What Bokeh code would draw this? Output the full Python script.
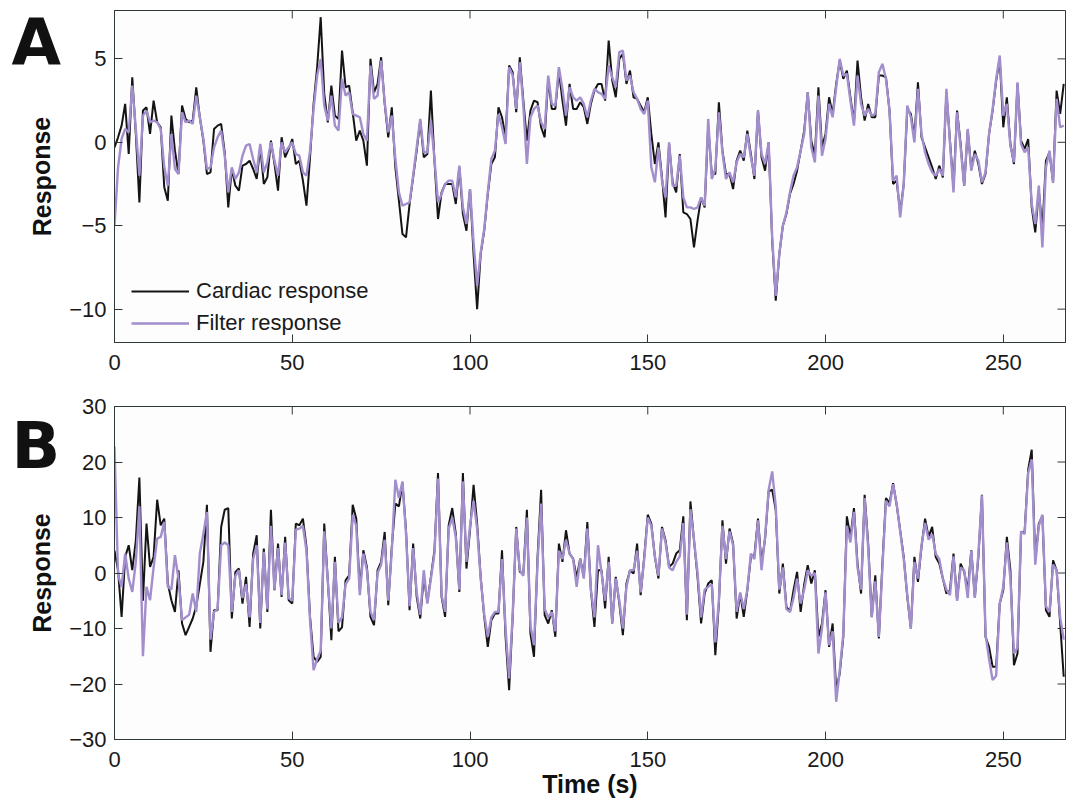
from bokeh.plotting import figure
from bokeh.layouts import column, row
from bokeh.models import Range1d, FixedTicker, Legend, LegendItem
from bokeh.core.properties import value
from bokeh.embed import file_html
from bokeh.resources import INLINE

time = list(range(268))

cardiac_a = [
    -0.3, 0.3, 1.0, 2.3, -0.7, 3.9, 0.5, -3.6, 1.9, 2.1,
    0.5, 2.5, 1.2, 0.9, -2.7, -3.5, 1.6, -0.5, -1.9, 2.2,
    1.4, 1.2, 1.3, 3.3, 1.5, 0.1, -1.9, -1.8, 0.8, 1.0,
    1.1, -0.6, -3.9, -1.6, -2.6, -2.9, -1.4, -1.3, -1.1, -1.6,
    -2.2, -0.3, -2.5, -2.1, 0.1, -1.3, -2.9, 0.3, -0.9, -0.4,
    0.2, -1.3, -1.1, -2.3, -3.8, -0.9, 2.3, 4.5, 7.5, 2.9,
    1.2, 3.4, 1.6, 1.4, 5.5, 3.3, 3.4, 1.8, 0.1, 0.7,
    0.1, -1.4, 5.0, 3.0, 3.5, 5.1, 2.3, 0.3, 2.1, -1.5,
    -3.5, -5.5, -5.7, -3.7, -2.1, -0.5, 1.3, -0.9, -0.7, 3.1,
    -1.1, -4.6, -3.0, -2.5, -2.5, -2.5, -3.7, -1.5, -4.3, -5.3,
    -2.8, -6.7, -10.0, -6.7, -5.3, -3.1, -1.3, -0.9, 2.1, 1.5,
    0.3, 4.6, 4.2, 1.8, 5.1, 2.5, 0.1, 1.9, 2.5, 2.4,
    0.9, 0.3, 3.8, 2.0, 2.0, 4.3, 2.5, 1.0, 3.5, 2.0,
    2.0, 2.4, 2.1, 1.1, 2.3, 3.1, 3.5, 3.5, 2.5, 6.1,
    3.7, 2.7, 5.0, 5.3, 3.5, 4.3, 2.7, 2.6, 2.2, 1.8,
    2.7, 0.5, -1.3, 0.0, -2.1, -4.5, -0.1, -2.4, -3.0, -0.7,
    -4.2, -4.3, -4.6, -6.3, -4.7, -3.3, -3.9, 1.0, -1.9, -1.9,
    2.4, -0.5, -1.9, -1.9, -2.8, -1.1, -0.5, -1.1, 0.7, -0.7,
    -2.2, 1.9, -0.9, -1.7, 0.0, -5.9, -9.5, -6.7, -5.0, -4.3,
    -3.1, -2.5, -1.7, -0.5, 0.7, 3.0, 0.1, -0.8, 3.3, -0.3,
    0.5, 2.7, 1.7, 3.5, 4.9, 3.8, 4.3, 2.7, 1.2, 4.9,
    2.7, 1.3, 2.3, 1.5, 1.5, 4.0, 4.0, 3.9, 1.9, -2.5,
    -2.3, -4.2, -2.5, 2.0, 1.7, 0.3, 3.6, 0.3, -0.3, -0.9,
    -1.5, -2.2, -1.4, -2.1, 3.0, 0.1, -2.7, 1.9, -0.1, -2.6,
    0.7, -1.6, -0.5, -1.3, -2.5, -1.9, 0.5, 1.9, 3.7, 5.0,
    0.9, 2.7, -0.1, -1.3, 3.5, 0.1, -0.4, 0.2, -3.9, -5.4,
    -2.9, -5.2, -1.1, -0.6, -2.4, 3.1, 1.7, 3.5,
]

filter_a = [
    -5.0, -1.5, 0.2, 0.8, 0.6, 3.4, 0.8, -2.0, 1.6, 1.9,
    1.2, 1.3, 1.2, 0.8, -1.5, -2.6, 0.5, -1.6, -1.9, 1.8,
    1.2, 1.3, 1.1, 2.8, 1.5, 0.2, -1.6, -1.5, -0.3, 0.3,
    0.7, -0.8, -3.0, -1.5, -2.2, -1.8, -0.8, -0.2, -0.1, -1.0,
    -1.8, -0.1, -1.8, -1.2, 0.0, -1.1, -2.0, 0.0, -0.6, -0.3,
    0.0, -0.7, -0.8, -1.8, -2.0, -0.5, 2.0, 4.0, 5.0, 2.2,
    1.3, 2.8, 1.0, 0.7, 3.8, 2.8, 3.0, 1.7, 1.6, 1.5,
    0.5, 0.1, 4.6, 2.6, 2.8, 4.9, 2.4, 0.6, 1.6, -1.0,
    -3.0, -3.8, -3.7, -3.6, -2.0, -0.3, 1.4, -0.6, -0.6, 1.3,
    -1.0, -3.6, -3.1, -2.5, -2.3, -2.3, -3.3, -1.4, -3.9, -4.9,
    -2.8, -6.0, -8.6, -6.6, -5.2, -3.0, -1.0, -0.5, 1.7, 0.9,
    -0.1, 4.5, 4.0, 2.0, 4.8, 2.2, -1.3, 1.5, 2.0, 2.2,
    1.2, 0.8, 4.0, 2.3, 2.2, 4.5, 3.2, 1.6, 3.3, 2.7,
    2.5, 2.7, 2.3, 1.5, 2.5, 3.2, 3.0, 2.9, 2.6, 4.6,
    3.9, 3.3, 5.4, 5.5, 3.7, 4.0, 3.0, 2.6, 2.0, 1.7,
    2.5, -1.5, -2.4, -0.3, -2.3, -3.3, 0.0, -2.6, -2.6, -0.8,
    -3.3, -3.9, -3.9, -4.0, -3.9, -3.3, -3.8, 1.4, -2.2, -1.6,
    1.8, -0.6, -2.2, -1.8, -2.4, -1.2, -0.7, -0.9, 0.5, -0.9,
    -2.0, 1.9, -0.7, -1.3, 0.0, -5.7, -9.2, -6.7, -5.0, -4.2,
    -3.0, -2.0, -1.5, -0.5, 0.5, 3.0, -0.3, -1.2, 2.8, -0.8,
    0.2, 2.3, 1.5, 3.3, 5.0, 4.0, 4.1, 2.5, 1.0, 4.0,
    2.3, 1.6, 2.0, 1.6, 1.7, 4.2, 4.7, 3.8, 1.9, -2.3,
    -2.0, -4.5, -2.5, 2.2, 1.5, 0.0, 3.2, 0.5, -0.6, -1.3,
    -1.8, -2.0, -1.6, -2.0, 3.2, 0.0, -3.0, 1.8, -0.3, -2.6,
    0.8, -1.7, -0.7, -1.1, -2.4, -1.8, 0.5, 2.0, 3.8, 5.2,
    1.6, 2.3, -0.2, -1.2, 3.6, -0.1, -0.6, -0.3, -3.7, -4.9,
    -2.6, -6.3, -1.5, -0.5, -2.4, 2.6, 0.9, 1.0,
]

cardiac_b = [
    4.0, 0.5, -7.9, 2.9, 5.0, 0.5, 5.9, 17.2, -5.0, 8.9,
    1.1, 2.9, 13.2, 8.6, 9.8, -1.9, -4.9, -7.0, 0.5, -9.1,
    -11.2, -9.7, -8.2, -6.0, -2.0, 2.0, 12.3, -14.2, -6.7, -6.7,
    8.3, 11.4, 11.7, -8.2, 0.2, 0.8, -5.5, -0.7, -9.7, 3.5,
    6.8, -10.0, 4.4, -7.0, 11.4, -3.1, 5.3, -4.3, 6.5, -4.9,
    -5.5, 8.9, 8.6, 9.8, 4.7, -7.9, -15.1, -16.0, -15.1, 8.9,
    -1.3, -12.1, 2.9, -10.5, -9.8, -1.3, -0.4, 12.3, 9.8, -3.1,
    4.1, 1.1, -7.9, -9.4, 0.5, 2.0, 7.4, -5.8, 4.7, 12.5,
    12.0, 16.2, 7.7, -6.7, 5.3, -4.3, -8.2, -0.7, -5.2, -0.7,
    4.1, 18.0, -4.3, -7.9, 8.6, 11.7, 7.1, -3.4, 18.0, 0.8,
    7.7, 15.9, 8.9, -0.7, -7.9, -13.3, -8.5, -7.3, -7.3, 4.1,
    -11.5, -21.1, -7.9, 8.3, 0.2, -0.1, 11.4, -10.9, -15.1, 2.9,
    15.0, -7.6, -9.1, -6.7, -11.5, 5.3, 2.0, 7.7, 3.5, 2.6,
    -0.8, 2.6, -0.7, 9.2, -3.1, -9.7, 0.5, 0.5, -6.4, 2.9,
    -9.1, -0.7, -5.5, -11.2, -1.9, 0.5, -0.1, 5.3, -4.0, 2.9,
    10.5, 8.9, 2.9, -1.0, 8.3, 5.9, 1.1, 1.7, 3.5, 4.1,
    10.2, -8.5, 12.9, 5.9, -0.7, -9.1, -3.7, -1.9, -1.3, -14.8,
    -5.5, 9.5, 1.7, 8.0, 5.3, -8.2, -3.7, -7.9, -3.1, 2.9,
    3.2, 9.8, 1.7, 6.2, 14.7, 15.0, 11.4, -3.7, 1.7, -6.1,
    -7.0, -3.1, 0.2, -7.0, -2.0, 1.4, -1.9, 0.5, -11.5, -9.1,
    -3.1, -13.3, -9.1, -21.0, -18.1, -11.5, 10.2, 6.5, 11.7, 1.7,
    -3.7, 14.1, 5.3, -7.9, -0.4, -11.8, 1.7, 13.5, 12.6, 16.2,
    12.3, 7.7, 2.9, -4.3, -10.0, 2.9, -1.6, 4.7, 9.8, 6.5,
    8.3, 2.9, 1.7, -1.0, -3.7, -3.1, 3.5, -4.9, 1.7, 0.2,
    -3.1, 4.1, -4.3, 2.9, 14.1, -11.5, -13.3, -16.9, -16.9, -5.5,
    -3.1, 6.5, 0.5, -16.6, -14.5, 7.4, 7.4, 18.6, 22.2, 2.3,
    8.9, 10.3, -6.7, -7.9, 2.3, 0.5, -9.1, -18.7,
]

filter_b = [
    22.8, -0.4, -2.5, 3.5, -1.0, -3.4, 2.0, 12.0, -15.0, -2.5,
    -4.9, 1.0, 6.2, 6.5, 9.2, -2.5, -3.0, 3.2, -1.0, -8.5,
    -8.0, -7.5, -3.7, -7.0, 3.5, 7.1, 11.0, -12.0, -7.0, -6.5,
    5.0, 5.5, 5.0, -7.0, -0.5, 0.5, -4.5, -2.0, -8.0, 2.5,
    5.0, -9.0, 3.8, -6.5, 8.5, -3.0, 4.5, -4.0, 5.5, -4.5,
    -5.0, 7.8, 8.0, 8.5, 4.0, -8.5, -17.5, -15.5, -14.0, 7.5,
    -1.5, -10.0, 2.0, -9.0, -8.0, -2.0, -1.0, 10.5, 8.5, -4.0,
    3.5, 0.5, -7.0, -8.5, 0.0, 1.5, 6.0, -5.0, 4.0, 16.8,
    13.5, 16.5, 7.0, -6.0, 4.5, -3.5, -7.5, 0.5, -5.5, -1.0,
    3.5, 17.0, -4.0, -7.0, 8.0, 10.0, 6.5, -3.0, 16.5, 2.0,
    8.5, 13.0, 8.0, -1.0, -7.5, -11.5, -8.0, -7.0, -7.0, 2.5,
    -10.0, -19.0, -7.5, 8.0, 0.5, -0.5, 10.0, -9.5, -13.0, 2.0,
    12.5, -6.5, -8.0, -7.0, -10.5, 4.0, 2.5, 6.0, 3.5, 2.5,
    -2.5, 2.5, -1.0, 8.0, -3.0, -8.0, 5.0, 0.0, -5.0, 2.0,
    -9.0, -1.0, -5.0, -10.0, -2.5, 0.5, 0.5, 4.0, -3.5, 2.5,
    10.0, 8.5, 3.0, -0.5, 8.0, 5.5, 1.0, 0.5, 2.0, 3.0,
    9.0, -7.5, 11.5, 6.0, 0.0, -8.0, -3.0, -2.5, -2.0, -12.5,
    -5.0, 8.5, 2.5, 7.5, 5.0, -7.0, -3.5, -6.5, -3.0, 3.5,
    2.5, 9.5, 0.5, 6.5, 15.0, 18.3, 12.0, -3.0, 1.0, -6.5,
    -7.0, -4.5, -1.0, -5.5, -3.0, 0.5, -0.5, 0.0, -14.5, -10.0,
    -3.5, -13.0, -10.5, -23.2, -17.5, -11.0, 8.5, 5.5, 11.0, 1.0,
    -3.0, 13.5, 4.5, -8.0, -1.5, -11.5, 1.0, 13.0, 12.0, 16.0,
    12.5, 7.5, 2.5, -4.0, -10.0, 2.0, -1.0, 5.0, 9.0, 6.0,
    7.0, 3.5, 2.5, -1.0, -3.0, -4.0, 3.0, -5.0, 1.0, 0.5,
    -4.5, 4.0, -4.5, 3.5, 14.0, -11.0, -15.5, -19.3, -18.5, -5.5,
    -2.5, 5.5, -1.0, -14.5, -13.5, 7.5, 7.0, 18.0, 20.5, 1.5,
    8.5, 10.5, -6.0, -7.0, 1.5, 0.5, -8.0, -12.0,
]

x_ticks = [0, 50, 100, 150, 200, 250]
y_ticks_a = [-10, -5, 0, 5]
y_ticks_b = [-30, -20, -10, 0, 10, 20, 30]
x_end = 267.5
y_lim_a = (-12, 7.9)
y_lim_b = (-30, 30)
series_labels = ["Cardiac response", "Filter response"]
panel_letters = ["A", "B"]
x_label = "Time (s)"
y_label = "Response"

BLACK = "#141414"
PURPLE = "#a28dcd"
FRAME = "#2e3838"
FONT = "Liberation Sans"

# --- page geometry (pixels) ---
MARGIN_W = 66          # left strip holding panel letters and y titles
FRAME_LEFT = 113       # frame's left edge on the page
H_A, H_B = 390, 413
TOP_A, BOT_A = 10, 48
TOP_B, BOT_B = 16, 64


def minus(v):
    return ("\u2212" + str(abs(v))) if v < 0 else str(v)


def style(p, yticks, ylim):
    p.xaxis.ticker = FixedTicker(ticks=x_ticks)
    p.yaxis.ticker = FixedTicker(ticks=yticks)
    p.yaxis.major_label_overrides = {v: minus(v) for v in yticks}
    for ax in p.xaxis + p.yaxis:
        ax.major_tick_in = 8
        ax.major_tick_out = 0
        ax.minor_tick_line_color = None
        ax.axis_line_color = FRAME
        ax.major_tick_line_color = FRAME
        ax.major_label_text_font = FONT
        ax.major_label_text_font_size = "22px"
        ax.major_label_text_color = "#1a1a1a"
        ax.axis_label_text_font = FONT
        ax.axis_label_text_font_style = "bold"
        ax.axis_label_text_font_size = "25px"
        ax.axis_label_text_color = "#111111"
    p.xaxis.major_label_standoff = 12
    p.yaxis.major_label_standoff = 8
    p.outline_line_color = FRAME
    p.grid.visible = False
    p.background_fill_color = "#fdfdfd"
    p.border_fill_color = "white"
    # inward tick marks on the top and right edges of the box
    p.scatter(x_ticks, [ylim[1]] * len(x_ticks), marker="dash", size=16, angle=1.5708,
              line_color=FRAME, line_width=1)
    p.scatter([x_end] * len(yticks), yticks, marker="dash", size=16,
              line_color=FRAME, line_width=1)


main_w = 1066 - MARGIN_W
lb = FRAME_LEFT - MARGIN_W

pa = figure(width=main_w, height=H_A, output_backend="svg", toolbar_location=None,
            x_range=Range1d(0, x_end), y_range=Range1d(*y_lim_a),
            min_border_left=lb, min_border_right=1, min_border_top=TOP_A, min_border_bottom=BOT_A)
style(pa, y_ticks_a, y_lim_a)
ra1 = pa.line(time, cardiac_a, line_color=BLACK, line_width=2)
ra2 = pa.line(time, filter_a, line_color=PURPLE, line_width=2.4)
leg = Legend(items=[LegendItem(label=series_labels[0], renderers=[ra1]),
                    LegendItem(label=series_labels[1], renderers=[ra2])],
             location=(17, 6), orientation="vertical", padding=0, margin=0, spacing=6,
             glyph_width=58, glyph_height=22, label_height=22, label_standoff=7,
             label_text_font=FONT, label_text_font_size="22px", label_text_color="#1a1a1a",
             border_line_color=None, background_fill_alpha=0)
pa.add_layout(leg)

pb = figure(width=main_w, height=H_B, output_backend="svg", toolbar_location=None,
            x_range=Range1d(0, x_end), y_range=Range1d(*y_lim_b),
            min_border_left=lb, min_border_right=1, min_border_top=TOP_B, min_border_bottom=BOT_B)
style(pb, y_ticks_b, y_lim_b)
pb.line(time, cardiac_b, line_color=BLACK, line_width=2)
pb.line(time, filter_b, line_color=PURPLE, line_width=2.4)
pb.below[0].axis_label = x_label
pb.below[0].axis_label_standoff = 0

# left strip: panel letters and rotated y-axis titles, in page pixels (y down)
strip = figure(width=MARGIN_W, height=H_A + H_B, output_backend="svg", toolbar_location=None,
               x_range=Range1d(0, MARGIN_W), y_range=Range1d(H_A + H_B, 0),
               min_border=0, outline_line_color=None)
strip.axis.visible = False
strip.grid.visible = False
strip.text(x=[11, 11], y=[42, 445], text=panel_letters, text_font=value("DejaVu Sans"),
           text_font_style="bold", text_font_size="64px", text_color="#111111",
           text_align="left", text_baseline="alphabetic")
mid_a = TOP_A + (H_A - TOP_A - BOT_A) / 2
mid_b = H_A + TOP_B + (H_B - TOP_B - BOT_B) / 2
strip.text(x=[41, 41], y=[mid_a, mid_b], text=[y_label, y_label], text_font=value(FONT),
           text_font_style="bold", text_font_size="25px", text_color="#111111",
           text_align="center", text_baseline="middle", angle=1.5708)

layout = row(strip, column(pa, pb, spacing=0), spacing=0)
open("out.html", "w").write(file_html(layout, INLINE))
